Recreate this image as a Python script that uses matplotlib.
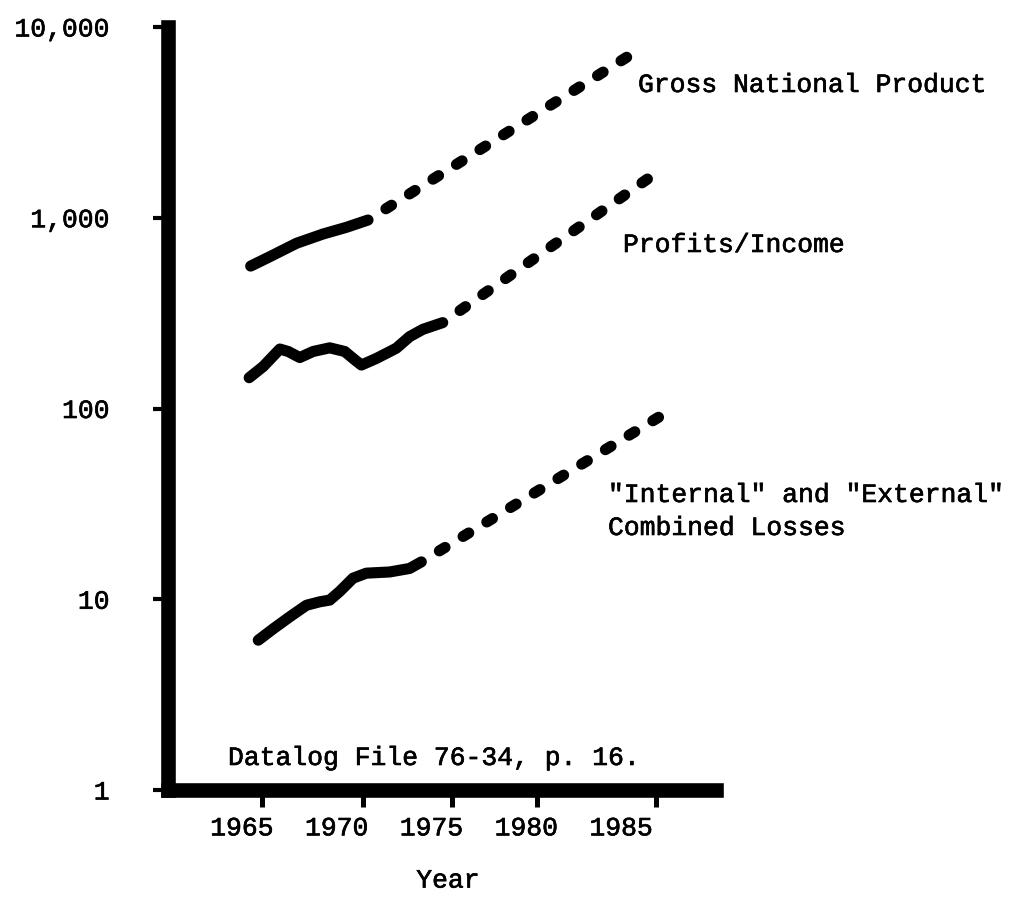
import matplotlib
matplotlib.use("Agg")
import matplotlib.pyplot as plt
import matplotlib.patheffects as pe
from matplotlib.ticker import FixedLocator, FixedFormatter, NullFormatter

# ---- data -------------------------------------------------------------
gnp_years = [1965.46, 1966.47, 1967.88, 1969.28, 1970.51, 1971.65]
gnp = [558, 625, 735, 822, 891, 973]
gnp_proj_years = [1971.65, 1985.33]
gnp_proj = [973, 6980]

profit_years = [1965.38, 1966.12, 1967.0, 1967.44, 1968.05, 1968.75, 1969.63,
                1970.42, 1970.95, 1971.30, 1972.09, 1973.14, 1973.84, 1974.54,
                1975.59]
profits = [145, 166, 205, 199, 185, 199, 208, 199, 180, 169, 183, 207, 238,
           260, 282]
profit_proj_years = [1975.59, 1986.44]
profit_proj = [282, 1610]

loss_years = [1965.86, 1966.65, 1967.53, 1968.40, 1969.11, 1969.63, 1970.16,
              1970.86, 1971.56, 1972.79, 1973.84, 1974.46]
losses = [6.1, 7.0, 8.1, 9.3, 9.7, 9.9, 11.0, 12.9, 13.7, 13.9, 14.5, 15.7]
loss_proj_years = [1974.46, 1987.17]
loss_proj = [15.7, 92.5]

year_ticks = [1965, 1970, 1975, 1980, 1985]
year_labels = ["1965", "1970", "1975", "1980", "1985"]
year_tick_marks = [1966.05, 1971.37, 1976.1, 1980.58, 1986.84]
value_ticks = [1, 10, 100, 1000, 10000]
value_labels = ["1", "10", "100", "1,000", "10,000"]

# ---- style ------------------------------------------------------------
FONT = "Liberation Mono"
FS = 19
INK = "black"
SOLID_W = 8
dotted = (0.6, (0.6, 1.9))
# slightly heavier strokes for a typewritten look
TYPE_FX = [pe.withStroke(linewidth=0.45, foreground=INK)]

fig = plt.figure(figsize=(10.22, 8.98), dpi=100)
W, H = 1022, 898
left, right, bottom, top = 168, 716, 790, 27
ax = fig.add_axes([left / W, 1 - bottom / H, (right - left) / W, (bottom - top) / H])

ax.set_yscale("log")
ax.set_xlim(1961.1, 1990.0)
ax.set_ylim(1, 10000)

line_kw = dict(color=INK, lw=SOLID_W, solid_capstyle="round",
               solid_joinstyle="round", dash_capstyle="round")
for xs, ys, pxs, pys in [
    (gnp_years, gnp, gnp_proj_years, gnp_proj),
    (profit_years, profits, profit_proj_years, profit_proj),
    (loss_years, losses, loss_proj_years, loss_proj),
]:
    ax.plot(xs, ys, **line_kw)
    ax.plot(pxs, pys, linestyle=dotted, **line_kw)

# axes frame: heavy left and bottom bars only
for side in ("top", "right"):
    ax.spines[side].set_visible(False)
for side in ("left", "bottom"):
    ax.spines[side].set_linewidth(10.5)
    ax.spines[side].set_capstyle("projecting")
    ax.spines[side].set_color(INK)

# y ticks
ax.yaxis.set_major_locator(FixedLocator(value_ticks))
ax.yaxis.set_major_formatter(FixedFormatter(value_labels))
ax.yaxis.set_minor_locator(FixedLocator([]))
ax.tick_params(axis="y", which="major", length=11, width=3, pad=31,
               labelsize=FS, color=INK)

# x ticks: typed labels, hand-drawn nubs
ax.xaxis.set_major_locator(FixedLocator(year_ticks))
ax.xaxis.set_major_formatter(FixedFormatter(year_labels))
ax.xaxis.set_minor_locator(FixedLocator(year_tick_marks))
ax.xaxis.set_minor_formatter(NullFormatter())
ax.tick_params(axis="x", which="major", length=0, pad=19, labelsize=FS)
ax.tick_params(axis="x", which="minor", length=12, width=3.6, color=INK)

for lab in ax.get_xticklabels() + ax.get_yticklabels():
    lab.set_fontfamily(FONT)
    lab.set_path_effects(TYPE_FX)

ax.set_xlabel("Year", fontfamily=FONT, fontsize=FS, path_effects=TYPE_FX)
ax.xaxis.set_label_coords((448 - left) / (right - left), -0.103)

# annotations (positions in axes fraction)
def ax_xy(px, py):
    return (px - left) / (right - left), (bottom - py) / (bottom - top)

text_kw = dict(transform=ax.transAxes, fontfamily=FONT, fontsize=FS,
               va="baseline", ha="left", color=INK, path_effects=TYPE_FX)
ax.text(*ax_xy(638, 92), "Gross National Product", **text_kw)
ax.text(*ax_xy(623, 252), "Profits/Income", **text_kw)
ax.text(*ax_xy(608, 502), '"Internal" and "External"', **text_kw)
ax.text(*ax_xy(608, 535), "Combined Losses", **text_kw)
ax.text(*ax_xy(228, 765), "Datalog File 76-34, p. 16.", **text_kw)

fig.savefig("out.png", dpi=100, facecolor="white")
